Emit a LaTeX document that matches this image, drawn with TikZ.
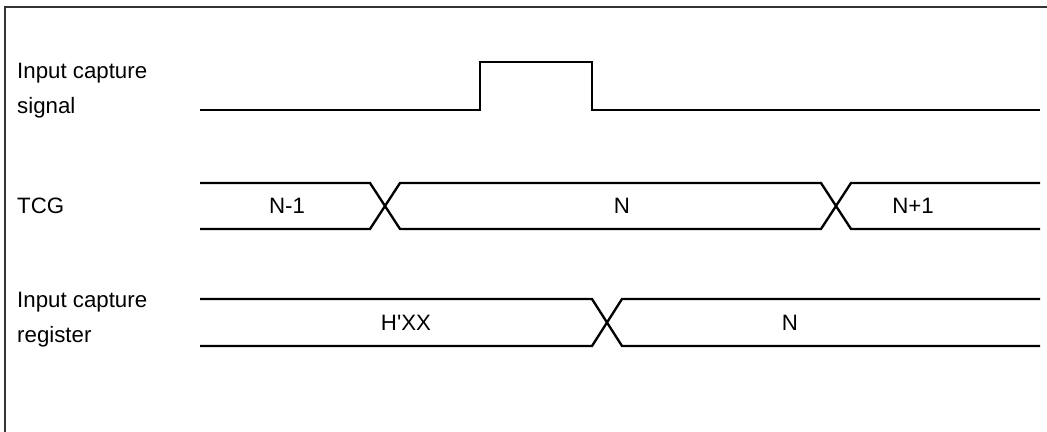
\documentclass[tikz,border=0pt]{standalone}
\usepackage{fontspec}
\setmainfont{Liberation Sans}
\usetikzlibrary{positioning}

\begin{document}
\begin{tikzpicture}[
      x=0.03cm, y=-0.03cm,
      wave/.style={line width=2pt, line join=miter},
      every node/.style={font=\fontsize{19}{30}\selectfont, inner sep=0pt}
    ]
    \useasboundingbox (0,0) rectangle (1047,432);

    % Frame
    \draw[line width=1.8pt, black!80] (5,432) -- (5,7) -- (1047,7);

    % Signal names
    \node[anchor=west, align=left] (capsig) at (17,90.5) {Input capture\\signal};
    \node[anchor=west] (tcg) at (17,206) {TCG};
    \node[anchor=west, align=left] (capreg) at (17,319.5) {Input capture\\register};

    % Input capture signal
    \draw[wave] (200,110) -- (480,110) -- (480,62) -- (592,62) -- (592,110) -- (1040,110);

    % TCG
    \draw[wave] (200,183) -- (370,183) -- (400,229) -- (821,229) -- (851,183) -- (1040,183);
    \draw[wave] (200,229) -- (370,229) -- (400,183) -- (821,183) -- (851,229) -- (1040,229);
    \node (tcgprev) at (287,206) {N-1};
    \node (tcgnow) at (622,206) {N};
    \node (tcgnext) at (913,206) {N+1};

    % Input capture register
    \draw[wave] (200,299) -- (592,299) -- (622,346) -- (1040,346);
    \draw[wave] (200,346) -- (592,346) -- (622,299) -- (1040,299);
    \node (regold) at (406,322.5) {H\textquotesingle XX};
    \node (regnew) at (790,322.5) {N};

  \end{tikzpicture}
\end{document}
